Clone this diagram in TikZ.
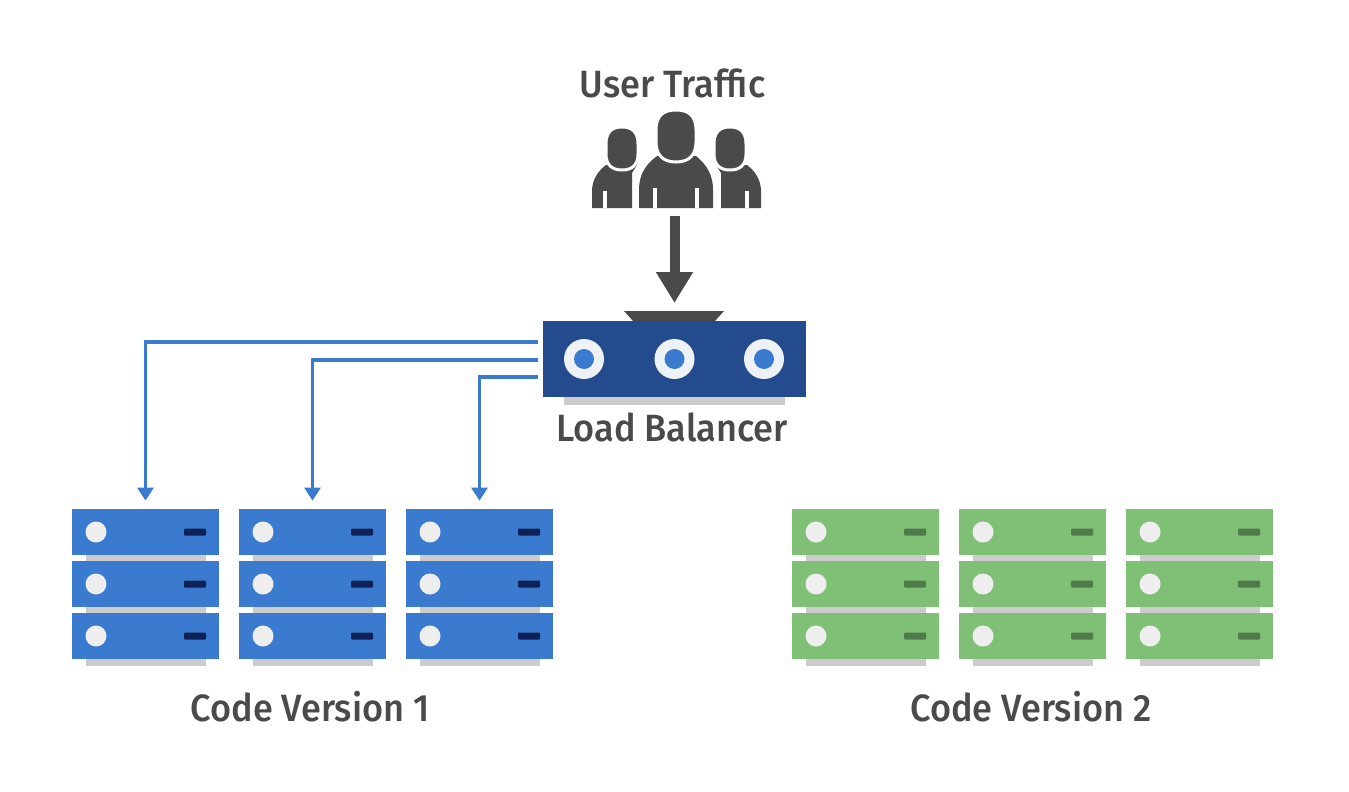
\documentclass[tikz,border=0pt]{standalone}
\usepackage{fontspec}
\setmainfont[UprightFont={* Medium},BoldFont={* Bold},FakeStretch=0.95]{Fira Sans}
\usepackage{tikz}
\usetikzlibrary{arrows.meta}

\definecolor{inkgray}{HTML}{4A4A4A}
\definecolor{lbnavy}{HTML}{234B8D}
\definecolor{srvblue}{HTML}{3A7BD0}
\definecolor{srvgreen}{HTML}{80C076}
\definecolor{ledblue}{HTML}{0E2257}
\definecolor{ledgreen}{HTML}{4F7A4A}
\definecolor{backgray}{HTML}{CCCCCC}
\definecolor{ringwhite}{HTML}{EEF1F6}
\definecolor{lampwhite}{HTML}{EEEEEE}

\tikzset{
  caption/.style={inner sep=0pt, text=inkgray, font=\fontsize{19}{23}\selectfont},
  unit/.style={inner sep=0pt, minimum width=73.5pt, minimum height=23pt},
  lamp/.style={circle, inner sep=0pt, minimum size=10.5pt, fill=lampwhite},
  slot/.style={inner sep=0pt, minimum width=11pt, minimum height=3.5pt, rounded corners=0.5pt},
  backing/.style={fill=backgray},
  flow/.style={draw=srvblue, line width=1.8pt, -{Triangle[width=8pt,length=6.5pt]}, shorten >=4pt},
  feed/.style={draw=inkgray, line width=5pt, -{Triangle[width=17.5pt,length=15.5pt]}, shorten <=4pt, shorten >=4pt},
  port/.style={circle, inner sep=0pt, minimum size=20pt, fill=ringwhite},
  hole/.style={circle, inner sep=0pt, minimum size=10pt, fill=srvblue},
}

% one rack of three units: name, x centre, body colour, slot colour
\newcommand{\serverrack}[4]{
  \foreach \row/\y in {1/532,2/584,3/636} {
    \fill[backing] (#2-60,\y+20) rectangle (#2+60,\y+30);
    \node[unit, fill=#3] (#1-\row) at (#2,\y) {};
    \node[lamp] (#1-lamp-\row) at (#2-49.5,\y) {};
    \node[slot, fill=#4] (#1-slot-\row) at (#2+49.5,\y) {};
  }
}

\begin{document}
\begin{tikzpicture}[x=0.5pt, y=-0.5pt]
\useasboundingbox (0,0) rectangle (1349,792);

\node[caption] (traffic) at (672.5,83) {User Traffic};

% people, side ones first
\fill[inkgray] (592,208) -- (592,191) .. controls (592,180) and (598,171) .. (606,165) -- (637,165) -- (632,173) -- (632,208) -- cycle;
\fill[inkgray] (761,208) -- (761,191) .. controls (761,180) and (755,171) .. (747,165) -- (716,165) -- (721,173) -- (721,208) -- cycle;
\fill[white] (603,191) rectangle (607,208);
\fill[white] (745,191) rectangle (749,208);
\draw[white, line width=1.5pt, fill=inkgray] (606,144) .. controls (606,132) and (612,127) .. (622,127) .. controls (632,127) and (638,132) .. (638,144) -- (638,154) .. controls (638,165) and (632,170) .. (622,170) .. controls (612,170) and (606,165) .. (606,154) -- cycle;
\draw[white, line width=1.5pt, fill=inkgray] (714,144) .. controls (714,132) and (720,127) .. (730,127) .. controls (740,127) and (746,132) .. (746,144) -- (746,154) .. controls (746,165) and (740,170) .. (730,170) .. controls (720,170) and (714,165) .. (714,154) -- cycle;
\fill[inkgray] (639,208) -- (639,190) .. controls (639,175) and (645,165) .. (657,156) -- (696,156) .. controls (707,165) and (713,175) .. (713,190) -- (713,208) -- cycle;
\fill[white] (653,188) rectangle (657,208);
\fill[white] (695,188) rectangle (699,208);
\draw[white, line width=1.5pt, fill=inkgray] (656,130) .. controls (656,116) and (663,110) .. (676,110) .. controls (689,110) and (696,116) .. (696,130) -- (696,142) .. controls (696,155) and (689,162) .. (676,162) .. controls (663,162) and (656,155) .. (656,142) -- cycle;
\node[inner sep=0pt, minimum width=84pt, minimum height=49pt] (users) at (675,159) {};

% load balancer
\fill[inkgray] (624,311) -- (724,311) -- (715,321) -- (633,321) -- cycle;
\fill[backing] (564,390) rectangle (785,405);
\node[inner sep=0pt, minimum width=131.5pt, minimum height=38pt, fill=lbnavy] (balancer) at (674.5,359) {};
\foreach \k/\x in {1/584,2/674.5,3/764} {
  \node[port] (port-\k) at (\x,359) {};
  \node[hole] (hole-\k) at (\x,359) {};
}
\node[caption] (lbcap) at (672,427) {Load Balancer};
\coordinate (tray) at (674.5,311);
\coordinate (out-a) at (538,342);
\coordinate (out-b) at (538,360);
\coordinate (out-c) at (538,377);

% server racks
\serverrack{va}{145.5}{srvblue}{ledblue}
\serverrack{vb}{312.5}{srvblue}{ledblue}
\serverrack{vc}{479.5}{srvblue}{ledblue}
\serverrack{ga}{865.5}{srvgreen}{ledgreen}
\serverrack{gb}{1032.5}{srvgreen}{ledgreen}
\serverrack{gc}{1199.5}{srvgreen}{ledgreen}
\node[caption] (codeone) at (310,707) {Code Version 1};
\node[caption] (codetwo) at (1031,707) {Code Version 2};

% connectors
\draw[feed] (users.south -| tray) -- (tray);
\draw[flow] (out-a) -| (va-1.north);
\draw[flow] (out-b) -| (vb-1.north);
\draw[flow] (out-c) -| (vc-1.north);
\end{tikzpicture}
\end{document}
